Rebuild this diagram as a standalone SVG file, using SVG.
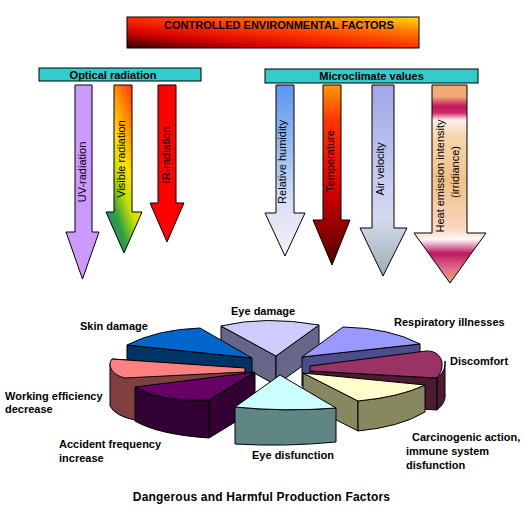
<svg xmlns="http://www.w3.org/2000/svg" width="527" height="517" viewBox="0 0 527 517">
<defs>
<style>
.lbl{font-family:"Liberation Sans",Arial,sans-serif;font-weight:bold;font-size:11px;fill:#000}
.rot{font-family:"Liberation Sans",Arial,sans-serif;font-size:11px;fill:#000;text-anchor:middle}
.ol{stroke:#000;stroke-width:1;stroke-linejoin:round}
.bar{fill:#33CCCC;stroke:#000;stroke-width:1}
</style>
<linearGradient id="gTitle" x1="0" y1="1" x2="1" y2="0">
<stop offset="0" stop-color="#300000"/><stop offset="0.25" stop-color="#D00000"/><stop offset="0.5" stop-color="#FF3000"/><stop offset="0.75" stop-color="#FF7A00"/><stop offset="1" stop-color="#FFDD00"/>
</linearGradient>
<linearGradient id="gVis" x1="0.8" y1="0" x2="0.2" y2="1">
<stop offset="0" stop-color="#FF2020"/><stop offset="0.2" stop-color="#FF7A00"/><stop offset="0.45" stop-color="#FFE000"/><stop offset="0.6" stop-color="#C8E000"/><stop offset="0.8" stop-color="#30A040"/><stop offset="1" stop-color="#208080"/>
</linearGradient>
<linearGradient id="gHum" x1="0" y1="0" x2="0" y2="1">
<stop offset="0" stop-color="#5A96F0"/><stop offset="0.4" stop-color="#9EC0F0"/><stop offset="0.7" stop-color="#DCE0F4"/><stop offset="1" stop-color="#F4F0F8"/>
</linearGradient>
<linearGradient id="gTemp" x1="0" y1="0" x2="0" y2="1">
<stop offset="0" stop-color="#FF9900"/><stop offset="0.2" stop-color="#FF3300"/><stop offset="0.55" stop-color="#E00000"/><stop offset="0.75" stop-color="#A00000"/><stop offset="1" stop-color="#500000"/>
</linearGradient>
<linearGradient id="gAir" x1="0" y1="0" x2="0" y2="1">
<stop offset="0" stop-color="#9EA6E6"/><stop offset="0.5" stop-color="#C8CCF0"/><stop offset="0.7" stop-color="#D4D8F0"/><stop offset="1" stop-color="#9AB0AC"/>
</linearGradient>
<linearGradient id="gHeat" x1="0" y1="0" x2="0" y2="1">
<stop offset="0" stop-color="#F0B070"/><stop offset="0.06" stop-color="#F0A878"/><stop offset="0.106" stop-color="#C0185A"/><stop offset="0.14" stop-color="#D02868"/><stop offset="0.177" stop-color="#FFF0F0"/><stop offset="0.25" stop-color="#F8D8B0"/><stop offset="0.48" stop-color="#F0C088"/><stop offset="0.73" stop-color="#F8D8C0"/><stop offset="0.78" stop-color="#FFF8F8"/><stop offset="0.85" stop-color="#C01860"/><stop offset="0.93" stop-color="#E07090"/><stop offset="1" stop-color="#F0A860"/>
</linearGradient>
</defs>
<rect width="527" height="517" fill="#fff"/>

<g id="title">
<rect x="127" y="17" width="292" height="31" fill="url(#gTitle)" stroke="#000"/>
<text class="lbl" x="279" y="29" text-anchor="middle">CONTROLLED ENVIRONMENTAL FACTORS</text>
</g>

<g id="optical">
<rect class="bar" x="39" y="68" width="162" height="13"/>
<text class="lbl" x="113" y="79" text-anchor="middle">Optical radiation</text>
</g>
<g id="microclimate">
<rect class="bar" x="265" y="69" width="213" height="14"/>
<text class="lbl" x="371.5" y="80" text-anchor="middle">Microclimate values</text>
</g>

<g id="uv">
<path class="ol" fill="#CC99FF" d="M75,85 L92,85 L92,232 L99,232 L82.5,279 L66,232 L75,232 Z"/>
<text class="rot" transform="translate(82,172) rotate(-90)" y="4">UV-radiation</text>
</g>
<g id="visible">
<path class="ol" fill="url(#gVis)" d="M114,85 L132,85 L132,212 L142,212 L124,253 L106,212 L114,212 Z"/>
<text class="rot" transform="translate(121,159) rotate(-90)" y="4">Visible radiation</text>
</g>
<g id="ir">
<path class="ol" fill="#FF0000" d="M158,85 L176,85 L176,203 L184,203 L167,242 L150,203 L158,203 Z"/>
<text class="rot" transform="translate(166,155) rotate(-90)" y="4">IR-radiation</text>
</g>
<g id="humidity">
<path class="ol" fill="url(#gHum)" d="M276,85 L294,85 L294,213 L305,213 L285,256 L265,213 L276,213 Z"/>
<text class="rot" transform="translate(282,162) rotate(-90)" y="4">Relative humidity</text>
</g>
<g id="temperature">
<path class="ol" fill="url(#gTemp)" d="M323,85 L341,85 L341,220 L350,220 L332,265 L313,220 L323,220 Z"/>
<text class="rot" transform="translate(329.5,161) rotate(-90)" y="4">Temperature</text>
</g>
<g id="airvelocity">
<path class="ol" fill="url(#gAir)" d="M372,85 L394,85 L394,228 L407,228 L383,276 L360,228 L372,228 Z"/>
<text class="rot" transform="translate(380,169) rotate(-90)" y="4">Air velocity</text>
</g>
<g id="heat">
<path class="ol" fill="url(#gHeat)" d="M432,85 L467,85 L467,233 L486,233 L450,283 L414,233 L432,233 Z"/>
<text class="rot" transform="translate(440,176) rotate(-90)" y="4">Heat emission intensity</text>
<text class="rot" transform="translate(455,172) rotate(-90)" y="4">(irridiance)</text>
</g>

<g id="connectors"></g>

<g id="eye-damage">
<path class="ol" fill="#666688" d="M221,326 L276,356 L276,385 L221,355 Z"/>
<path class="ol" fill="#666688" d="M276,356 L319,325 L319,354 L276,385 Z"/>
<path class="ol" fill="#CCCCFF" d="M221,326 Q265,315.5 319,325 L276,356 Z"/>
<text class="lbl" x="231" y="315">Eye damage</text>
</g>
<g id="respiratory">
<path class="ol" fill="#4D4D8C" d="M302,357 L420,344 L420,373 L302,386 Z"/>
<path class="ol" fill="#9999FF" d="M302,357 L343,327 Q390,328 420,344 Z"/>
<text class="lbl" x="394" y="326">Respiratory illnesses</text>
</g>
<g id="skin">
<path class="ol" fill="#003366" d="M127,345 L252,358 L252,387 L127,374 Z"/>
<path class="ol" fill="#0066CC" d="M127,345 Q157,329.5 200,328 L252,358 Z"/>
<text class="lbl" x="80" y="330">Skin damage</text>
</g>
<g id="working">
<path class="ol" fill="#804040" d="M112,359 L110,364 L110,406 Q115,416 135,420 L245,412 L245,369 Z"/>
<path class="ol" fill="#FF8080" d="M112,359 L245,368 L245,372 L125,378 C112,375 107,366 112,359 Z"/>
<text class="lbl" x="5" y="400">Working efficiency</text>
<text class="lbl" x="5" y="413">decrease</text>
</g>
<g id="discomfort">
<path class="ol" fill="#4D1A33" d="M310,371 L437,378 L437,410 L310,401 Z"/>
<path class="ol" fill="#4D1A33" d="M437,378 C442,374 446,368 445,361 L445,394 C446,400 442,406 437,410 Z"/>
<path class="ol" fill="#993366" d="M310,366 L426,351 C440,350 448,364 437,378 L310,371 Z"/>
<text class="lbl" x="450" y="365">Discomfort</text>
</g>
<g id="accident">
<path class="ol" fill="#330033" d="M135,387 Q162,402.5 209,400 L209,438 Q158,434.5 135,421 Z"/>
<path class="ol" fill="#330033" d="M209,400 L255,373 L255,410 L209,438 Z"/>
<path class="ol" fill="#660066" d="M135,387 L255,372 L209,400 Q162,402.5 135,387 Z"/>
<text class="lbl" x="59" y="448">Accident frequency</text>
<text class="lbl" x="59" y="462">increase</text>
</g>
<g id="carcinogenic">
<path class="ol" fill="#888860" d="M303,373 L358,401 L358,431 L303,403 Z"/>
<path class="ol" fill="#888860" d="M358,401 Q400,397 425,385 L425,412 Q400,427 358,431 Z"/>
<path class="ol" fill="#FFFFCC" d="M303,373 L425,385 Q400,397 358,401 Z"/>
<text class="lbl" x="412" y="441">Carcinogenic action,</text>
<text class="lbl" x="406" y="455">immune system</text>
<text class="lbl" x="406" y="469">disfunction</text>
</g>
<g id="eye-disfunction">
<path class="ol" fill="#5F8585" d="M235,407 Q285,412 336,408 L336,442 Q285,447 235,444 Z"/>
<path class="ol" fill="#CCFFFF" d="M280,375 L336,408 Q285,412 235,407 Z"/>
<text class="lbl" x="252" y="459">Eye disfunction</text>
</g>

<g id="caption">
<text class="lbl" x="261.5" y="501" text-anchor="middle" style="font-size:12px;letter-spacing:0.2px">Dangerous and Harmful Production Factors</text>
</g>
</svg>
